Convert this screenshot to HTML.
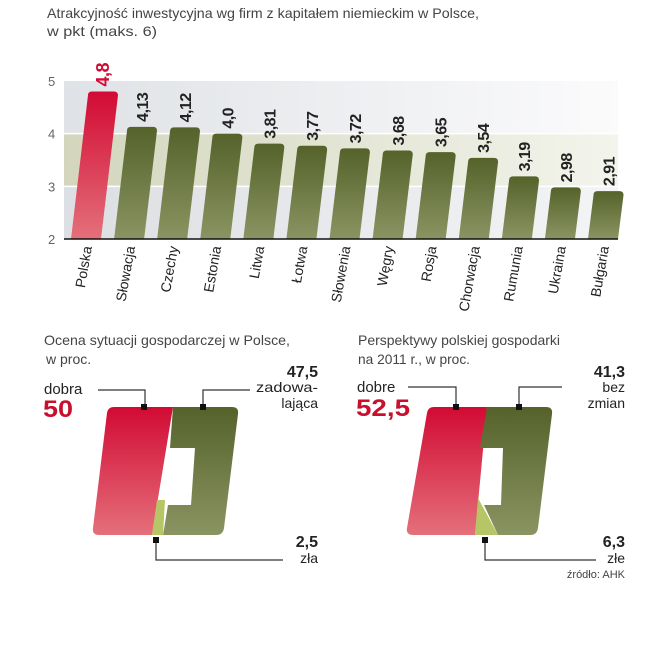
<!DOCTYPE html>
<html><head><meta charset="utf-8">
<style>
html,body{margin:0;padding:0;background:#fff;}
body{width:652px;height:640px;overflow:hidden;font-family:"Liberation Sans",sans-serif;}
</style></head>
<body>
<svg id="chart" width="652" height="640" xmlns="http://www.w3.org/2000/svg" font-family="Liberation Sans, sans-serif">
<defs>
<linearGradient id="gGreen" x1="0" y1="0" x2="0" y2="1"><stop offset="0" stop-color="#55622a"/><stop offset="1" stop-color="#8a9462"/></linearGradient>
<linearGradient id="gRed" x1="0" y1="0" x2="0" y2="1"><stop offset="0" stop-color="#d20a34"/><stop offset="1" stop-color="#e4707a"/></linearGradient>
<linearGradient id="gBgTop" x1="0" y1="0" x2="1" y2="0"><stop offset="0" stop-color="#dfe2e6"/><stop offset="1" stop-color="#fbfbfc"/></linearGradient>
<linearGradient id="gBgLow" x1="0" y1="0" x2="1" y2="0"><stop offset="0" stop-color="#d3d6bd"/><stop offset="1" stop-color="#f3f4ec"/></linearGradient>
<linearGradient id="gBgBottom" x1="0" y1="0" x2="1" y2="0"><stop offset="0" stop-color="#dcdfe3"/><stop offset="1" stop-color="#f3f4f5"/></linearGradient>
</defs>
<text x="47" y="18" font-size="14" fill="#444" textLength="432" lengthAdjust="spacingAndGlyphs">Atrakcyjność inwestycyjna wg firm z kapitałem niemieckim w Polsce,</text>
<text x="47" y="36" font-size="14" fill="#444" textLength="110" lengthAdjust="spacingAndGlyphs">w pkt (maks. 6)</text>
<g id="bars"></g>

<g>
<text x="44" y="345" font-size="14" fill="#444" textLength="246" lengthAdjust="spacingAndGlyphs">Ocena sytuacji gospodarczej w Polsce,</text>
<text x="46" y="364" font-size="14" fill="#444">w proc.</text>
<path d="M114,407 L173,407 L152,535 L99,535 Q92,535 93,528 L107,413 Q108,407 114,407Z" fill="url(#gRed)"/>
<path d="M173,407 L232,407 Q239,407 238,414 L224,528 Q223,535 216,535 L163,535 L168,505 L191,505 L195,448 L170,448Z" fill="url(#gGreen)"/>
<path d="M152,535 L163,535 L165,500 L157,500Z" fill="#b6c565"/>
<path d="M98,390 H145 V407 M203,407 V390 H250 M156,540 V560 H283" stroke="#333" stroke-width="1.2" fill="none"/>
<rect x="141" y="404" width="6" height="6" fill="#111"/><rect x="200" y="404" width="6" height="6" fill="#111"/><rect x="153" y="537" width="6" height="6" fill="#111"/>
<text x="44" y="394" font-size="15" fill="#222">dobra</text>
<text x="43" y="417" font-size="24" font-weight="bold" fill="#c8102e" textLength="30" lengthAdjust="spacingAndGlyphs">50</text>
<text x="318" y="377" font-size="16" font-weight="bold" fill="#222" text-anchor="end">47,5</text>
<text x="318" y="392" font-size="14" fill="#222" text-anchor="end" textLength="62" lengthAdjust="spacingAndGlyphs">zadowa-</text>
<text x="318" y="408" font-size="14" fill="#222" text-anchor="end">lająca</text>
<text x="318" y="547" font-size="16" font-weight="bold" fill="#222" text-anchor="end">2,5</text>
<text x="318" y="563" font-size="14" fill="#222" text-anchor="end">zła</text>
</g>

<g>
<text x="358" y="345" font-size="14" fill="#444" textLength="202" lengthAdjust="spacingAndGlyphs">Perspektywy polskiej gospodarki</text>
<text x="358" y="364" font-size="14" fill="#444" textLength="112" lengthAdjust="spacingAndGlyphs">na 2011 r., w proc.</text>
<path d="M434,407 L487,407 L475,535 L413,535 Q406,535 407,528 L427,413 Q428,407 434,407Z" fill="url(#gRed)"/>
<path d="M487,407 L546,407 Q553,407 552,414 L538,528 Q537,535 530,535 L498,535 L484,505 L501,505 L503,448 L480,448Z" fill="url(#gGreen)"/>
<path d="M475,535 L498,535 L478,498 Z" fill="#b6c565"/>
<path d="M408,387 H456 V407 M519,407 V387 H562 M485,540 V560 H596" stroke="#333" stroke-width="1.2" fill="none"/>
<rect x="453" y="404" width="6" height="6" fill="#111"/><rect x="516" y="404" width="6" height="6" fill="#111"/><rect x="482" y="537" width="6" height="6" fill="#111"/>
<text x="357" y="392" font-size="15" fill="#222">dobre</text>
<text x="356" y="416" font-size="24" font-weight="bold" fill="#c8102e" textLength="54" lengthAdjust="spacingAndGlyphs">52,5</text>
<text x="625" y="377" font-size="16" font-weight="bold" fill="#222" text-anchor="end">41,3</text>
<text x="625" y="392" font-size="14" fill="#222" text-anchor="end">bez</text>
<text x="625" y="408" font-size="14" fill="#222" text-anchor="end">zmian</text>
<text x="625" y="547" font-size="16" font-weight="bold" fill="#222" text-anchor="end">6,3</text>
<text x="625" y="563" font-size="14" fill="#222" text-anchor="end">złe</text>
<text x="625" y="578" font-size="11" fill="#444" text-anchor="end">źródło: AHK</text>
</g>
</svg>
<script>
const categories = ["Polska","Słowacja","Czechy","Estonia","Litwa","Łotwa","Słowenia","Węgry","Rosja","Chorwacja","Rumunia","Ukraina","Bułgaria"];
const values = [4.8,4.13,4.12,4.0,3.81,3.77,3.72,3.68,3.65,3.54,3.19,2.98,2.91];
const valueLabels = ["4,8","4,13","4,12","4,0","3,81","3,77","3,72","3,68","3,65","3,54","3,19","2,98","2,91"];
const yTicks = [2,3,4,5];

const NS = "http://www.w3.org/2000/svg";
const g = document.getElementById('bars');
const x0 = 64, x1 = 618, yMin = 2, yMax = 5, yBase = 239, yTop = 81;
const y = v => yBase - (v - yMin) / (yMax - yMin) * (yBase - yTop);
const step = (603 - 86) / (categories.length - 1);
const xc = i => 86 + i * step;
const slant = 0.115;
function mk(tag, attrs){const e=document.createElementNS(NS,tag);for(const k in attrs)e.setAttribute(k,attrs[k]);return e;}

g.appendChild(mk('rect',{x:x0,y:y(5),width:x1-x0,height:y(4)-y(5),fill:'url(#gBgTop)'}));
g.appendChild(mk('rect',{x:x0,y:y(4),width:x1-x0,height:y(3)-y(4),fill:'url(#gBgLow)'}));
g.appendChild(mk('rect',{x:x0,y:y(3),width:x1-x0,height:y(2)-y(3),fill:'url(#gBgBottom)'}));
[3,4].forEach(t=>{const l=mk('line',{x1:x0,x2:x1,y1:y(t),y2:y(t),stroke:'#fff','stroke-width':1.5});


g.appendChild(l);});
yTicks.forEach(t=>{const tx=mk('text',{x:48,y:y(t)+5,'font-size':13,fill:'#666'});tx.textContent=t;


g.appendChild(tx);});

categories.forEach((c,i)=>{
  const w = 30, h = yBase - y(values[i]), s = h*slant;
  const bl = xc(i)-w/2, br = xc(i)+w/2, yt = y(values[i]), r=4;
  const d = `M${bl},${yBase} L${bl+s},${yt+r} Q${bl+s},${yt} ${bl+s+r},${yt} L${br+s-r},${yt} Q${br+s},${yt} ${br+s},${yt+r} L${br},${yBase} Z`;
  const p = mk('path',{d:d,fill:i===0?'url(#gRed)':'url(#gGreen)'});
  
  
  g.appendChild(p);
  const lx = xc(i)+s+6, ly = yt-5;
  const vt = mk('text',{x:lx,y:ly,'font-size':i===0?18:16,'font-weight':'bold',fill:i===0?'#d20a34':'#222',transform:`rotate(-90 ${lx} ${ly})`,'letter-spacing':'-0.5'});
  vt.textContent = valueLabels[i];
  
  
  g.appendChild(vt);
  const cx = xc(i)+6, cy = 247;
  const ct = mk('text',{x:cx,y:cy,'font-size':14,fill:'#222','text-anchor':'end',transform:`rotate(-80 ${cx} ${cy})`});
  ct.textContent = c;
  
  
  g.appendChild(ct);
});
const ax = mk('line',{x1:x0,x2:x1,y1:yBase,y2:yBase,stroke:'#111','stroke-width':1.5});


g.appendChild(ax);
</script>
</body></html>
